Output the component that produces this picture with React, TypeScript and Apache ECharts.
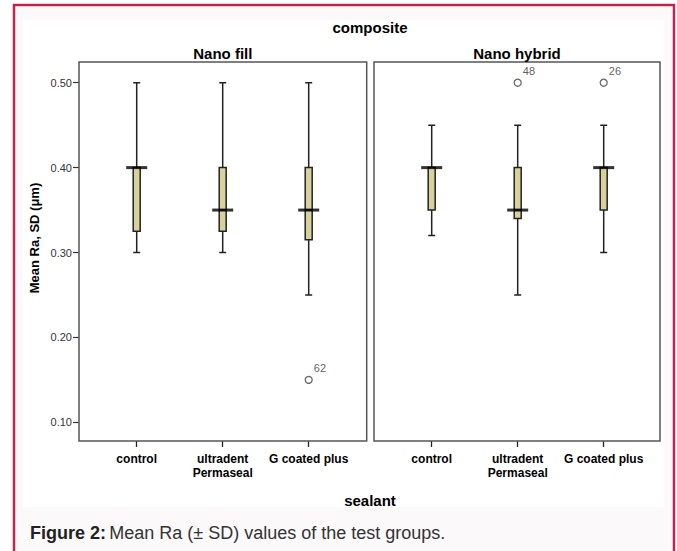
import React, { useEffect, useRef } from "react";
import * as echarts from "echarts";

const panelTitles = ["Nano fill", "Nano hybrid"];
const sealants = ["control", "ultradent\nPermaseal", "G coated plus"];
// [min, Q1, median, Q3, max]
const nanoFillBoxes = [
  [0.3, 0.325, 0.4, 0.4, 0.5],
  [0.3, 0.325, 0.35, 0.4, 0.5],
  [0.25, 0.315, 0.35, 0.4, 0.5],
];
const nanoHybridBoxes = [
  [0.32, 0.35, 0.4, 0.4, 0.45],
  [0.25, 0.34, 0.35, 0.4, 0.45],
  [0.3, 0.35, 0.4, 0.4, 0.45],
];
// [category index, value, case id]
const nanoFillOutliers = [[2, 0.15, "62"]];
const nanoHybridOutliers = [
  [1, 0.5, "48"],
  [2, 0.5, "26"],
];
const yTickValues = [0.1, 0.2, 0.3, 0.4, 0.5];
const yMin = 0.078;
const yMax = 0.5244;

const FONT = "'Liberation Sans', Arial, sans-serif";

export default function App() {
  const ref = useRef<HTMLDivElement>(null);
  useEffect(() => {
    if (!ref.current) return;
    const chart = echarts.init(ref.current, null, { renderer: "svg" });
    const gridLefts = [93.7, 388.7];
    const boxesAll = [nanoFillBoxes, nanoHybridBoxes];
    const outAll = [nanoFillOutliers, nanoHybridOutliers];

    const series: any[] = [];
    boxesAll.forEach((boxes, g) => {
      series.push({
        type: "boxplot",
        xAxisIndex: g,
        yAxisIndex: g,
        boxWidth: [7, 7],
        data: boxes,
        itemStyle: { color: "#d8d19c", borderColor: "#222", borderWidth: 1.5 },
        emphasis: { disabled: true },
        silent: true,
        z: 2,
      });
      series.push({
        type: "scatter",
        xAxisIndex: g,
        yAxisIndex: g,
        symbol: "rect",
        symbolSize: [21, 3],
        itemStyle: { color: "#000" },
        data: boxes.map((b, i) => [i, b[2]]),
        silent: true,
        z: 4,
      });
      series.push({
        type: "scatter",
        xAxisIndex: g,
        yAxisIndex: g,
        symbol: "circle",
        symbolSize: 7,
        itemStyle: { color: "#fff", borderColor: "#444", borderWidth: 1.3 },
        data: outAll[g].map((o) => [o[0], o[1], o[2]]),
        label: {
          show: true,
          position: "right",
          distance: 1,
          offset: [0, -12],
          formatter: (p: any) => p.value[2],
          fontSize: 11,
          color: "#333",
          fontFamily: FONT,
        },
        silent: true,
        z: 4,
      });
    });

    const panelFrames = [
      { x: 79, w: 287.7 },
      { x: 374, w: 286 },
    ];

    chart.setOption({
      animation: false,
      textStyle: { fontFamily: FONT },
      grid: gridLefts.map((l) => ({ left: l, top: 62, width: 258, height: 379 })),
      xAxis: gridLefts.map((_, g) => ({
        type: "category",
        gridIndex: g,
        data: sealants,
        boundaryGap: true,
        axisLine: { show: false },
        axisTick: { show: true, alignWithLabel: true, length: 6, lineStyle: { color: "#222", width: 1.3 } },
        axisLabel: {
          margin: 11,
          fontSize: 12,
          fontWeight: "bold",
          color: "#000",
          lineHeight: 14,
          fontFamily: FONT,
          interval: 0,
        },
        splitLine: { show: false },
      })),
      yAxis: gridLefts.map((_, g) => ({
        type: "value",
        gridIndex: g,
        min: yMin,
        max: yMax,
        offset: g === 0 ? 14.7 : 0,
        axisLine: { show: false },
        axisTick: {
          show: g === 0,
          length: 6,
          customValues: yTickValues,
          lineStyle: { color: "#333", width: 1.2 },
        },
        axisLabel: {
          show: g === 0,
          customValues: yTickValues,
          margin: 7,
          fontSize: 11,
          color: "#333",
          fontFamily: FONT,
          formatter: (v: number) => v.toFixed(2),
        },
        splitLine: { show: false },
      })),
      series,
      graphic: [
        {
          type: "rect",
          z: -20,
          shape: { x: 14, y: 5, width: 660, height: 600 },
          style: { fill: "#fcf9fa", stroke: "#c0244f", lineWidth: 2.5 },
        },
        {
          type: "rect",
          z: -19,
          shape: { x: 22.7, y: 20, width: 641.3, height: 487 },
          style: { fill: "#ffffff" },
        },
        ...panelFrames.map((f) => ({
          type: "rect",
          z: 10,
          shape: { x: f.x, y: 62, width: f.w, height: 379 },
          style: { fill: "none", stroke: "#555", lineWidth: 1.5 },
        })),
        {
          type: "text",
          z: 10,
          x: 370,
          y: 27,
          style: {
            text: "composite",
            font: `bold 15px ${FONT}`,
            fill: "#000",
            align: "center",
            verticalAlign: "middle",
          },
        },
        ...panelTitles.map((t, i) => ({
          type: "text",
          z: 10,
          x: panelFrames[i].x + panelFrames[i].w / 2,
          y: 53,
          style: {
            text: t,
            font: `bold 15px ${FONT}`,
            fill: "#000",
            align: "center",
            verticalAlign: "middle",
          },
        })),
        {
          type: "text",
          z: 10,
          x: 34,
          y: 238,
          rotation: Math.PI / 2,
          style: {
            text: "Mean Ra, SD (μm)",
            font: `bold 13px ${FONT}`,
            fill: "#000",
            align: "center",
            verticalAlign: "middle",
          },
        },
        {
          type: "text",
          z: 10,
          x: 370,
          y: 500,
          style: {
            text: "sealant",
            font: `bold 15px ${FONT}`,
            fill: "#000",
            align: "center",
            verticalAlign: "middle",
          },
        },
        {
          type: "text",
          z: 10,
          x: 30,
          y: 533,
          style: {
            text: "{b|Figure 2:} {r|Mean Ra (± SD) values of the test groups.}",
            align: "left",
            verticalAlign: "middle",
            rich: {
              b: { font: `bold 18px ${FONT}`, fill: "#222" },
              r: { font: `18px ${FONT}`, fill: "#333" },
            },
          },
        },
      ],
    });
    return () => chart.dispose();
  }, []);
  return (
    <div
      ref={ref}
      style={{ position: "absolute", left: 0, top: 0, width: 677, height: 551 }}
    />
  );
}
